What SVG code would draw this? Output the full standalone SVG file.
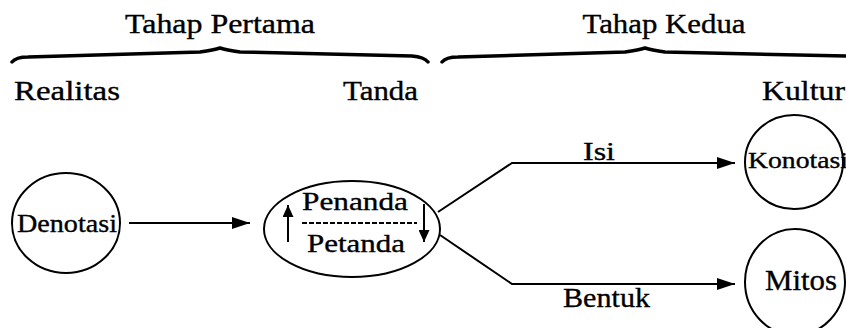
<svg xmlns="http://www.w3.org/2000/svg" width="846" height="328" viewBox="0 0 846 328">
<defs>
<style>
text{font-family:"Liberation Serif","Times New Roman",serif;fill:#000;stroke:#000;stroke-width:0.35}
.node{fill:none;stroke:#000;stroke-width:2}
.conn{fill:none;stroke:#000;stroke-width:2}
.brace{fill:none;stroke:#000;stroke-width:3.5;stroke-linecap:round;stroke-linejoin:round}
</style>
<marker id="ah" viewBox="0 0 18 12" refX="18" refY="6" markerWidth="18" markerHeight="12" markerUnits="userSpaceOnUse" orient="auto">
<path d="M0,0 L18,6 L0,12 z" fill="#000"/>
</marker>
<marker id="sh" viewBox="0 0 12 11" refX="12" refY="5.5" markerWidth="12" markerHeight="11" markerUnits="userSpaceOnUse" orient="auto">
<path d="M0,0 L12,5.5 L0,11 z" fill="#000"/>
</marker>
</defs>
<rect width="846" height="328" fill="#fff"/>
<g id="headers">
<text x="220" y="33" font-size="27" text-anchor="middle" textLength="190" lengthAdjust="spacingAndGlyphs">Tahap Pertama</text>
<text x="664" y="33" font-size="27" text-anchor="middle" textLength="163" lengthAdjust="spacingAndGlyphs">Tahap Kedua</text>
<path class="brace" d="M12,62 Q16,57 28,57 L200,52 Q214,50 220,48 Q226,50 240,52 L412,56 Q424,57 428,62"/>
<path class="brace" d="M442,62 Q446,57 458,57 L625,52 Q639,50 645,48 Q651,50 665,52 L846,56"/>
<text x="14" y="100" font-size="27" textLength="106" lengthAdjust="spacingAndGlyphs">Realitas</text>
<text x="343" y="100" font-size="27" textLength="75" lengthAdjust="spacingAndGlyphs">Tanda</text>
<text x="762" y="100" font-size="27" textLength="83" lengthAdjust="spacingAndGlyphs">Kultur</text>
</g>
<g id="denotasi">
<ellipse class="node" cx="66" cy="223" rx="54" ry="50"/>
<text x="17" y="232" font-size="26" textLength="100" lengthAdjust="spacingAndGlyphs">Denotasi</text>
</g>
<g id="tanda">
<ellipse class="node" cx="352" cy="229" rx="88" ry="48"/>
<text x="302" y="210" font-size="26" textLength="106" lengthAdjust="spacingAndGlyphs">Penanda</text>
<line x1="302" y1="223" x2="417" y2="223" stroke="#000" stroke-width="2" stroke-dasharray="5,2"/>
<text x="307" y="252" font-size="26" textLength="98" lengthAdjust="spacingAndGlyphs">Petanda</text>
<line x1="288" y1="242" x2="288" y2="205" stroke="#000" stroke-width="2" marker-end="url(#sh)"/>
<line x1="424" y1="204" x2="424" y2="242" stroke="#000" stroke-width="2" marker-end="url(#sh)"/>
</g>
<g id="konotasi">
<ellipse class="node" cx="794" cy="162" rx="49" ry="47"/>
<text x="748" y="168" font-size="23" textLength="100" lengthAdjust="spacingAndGlyphs">Konotasi</text>
</g>
<g id="mitos">
<ellipse class="node" cx="795" cy="282" rx="50" ry="53"/>
<text x="765" y="290" font-size="30" textLength="72" lengthAdjust="spacingAndGlyphs">Mitos</text>
</g>
<g id="connectors">
<line class="conn" x1="129" y1="223" x2="250" y2="223" marker-end="url(#ah)"/>
<polyline class="conn" points="438,212 512,163 735,163" marker-end="url(#ah)"/>
<polyline class="conn" points="440,235 512,284 735,284" marker-end="url(#ah)"/>
<text x="583" y="160" font-size="26" textLength="32" lengthAdjust="spacingAndGlyphs">Isi</text>
<text x="563" y="307" font-size="28" textLength="87" lengthAdjust="spacingAndGlyphs">Bentuk</text>
</g>
</svg>
